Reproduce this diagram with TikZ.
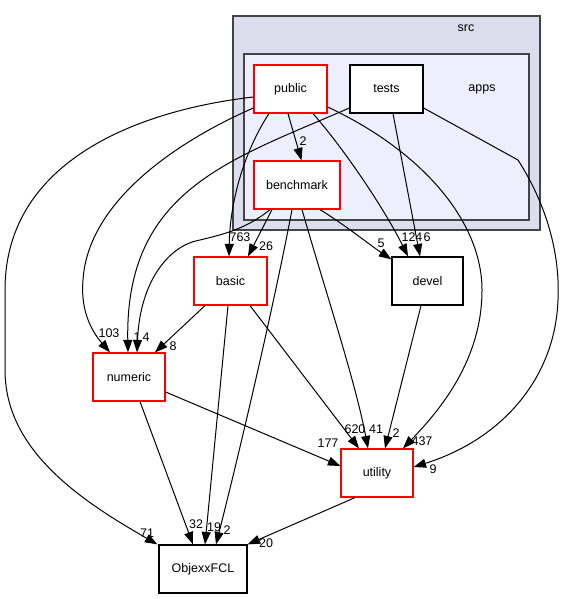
\documentclass[tikz,border=0pt]{standalone}
\usepackage{fontspec}
\setmainfont{Liberation Sans}
\usetikzlibrary{arrows.meta}
\definecolor{srcfill}{HTML}{DDDDEE}
\definecolor{appsfill}{HTML}{EEEEFF}
\definecolor{clborder}{HTML}{444444}
\tikzset{
  dirbox/.style={draw=black, fill=white, line width=1.2pt, minimum height=48pt, inner sep=0pt, font=\fontsize{12.5}{14}\selectfont},
  reddir/.style={dirbox, draw=red},
  cluster/.style={draw=clborder, line width=1.4pt},
  dep/.style={line width=1pt, -{Triangle[length=12.5pt,width=9pt]}},
  num/.style={inner sep=0pt, font=\fontsize{12.5}{13}\selectfont},
  ctitle/.style={inner sep=0pt, font=\fontsize{12.5}{14}\selectfont}
}
\begin{document}
\begin{tikzpicture}[x=1pt,y=-1pt]
\useasboundingbox (0,0) rectangle (567,599);
\fill[white] (0,0) rectangle (567,599);
% clusters
\draw[cluster, fill=srcfill] (233,16) rectangle (540,230);
\node[ctitle] (srclbl) at (466,28) {src};
\draw[cluster, fill=appsfill] (244,54) rectangle (529,220);
\node[ctitle] (appslbl) at (482,89) {apps};
% nodes
\node[reddir, minimum width=73pt] (public) at (290.5,89) {public};
\node[dirbox, minimum width=73pt] (tests) at (386.5,89) {tests};
\node[reddir, minimum width=86pt] (benchmark) at (297,185) {benchmark};
\node[reddir, minimum width=73pt] (basic) at (230.5,281) {basic};
\node[dirbox, minimum width=71pt] (devel) at (427.5,281) {devel};
\node[reddir, minimum width=72pt] (numeric) at (129,377) {numeric};
\node[reddir, minimum width=72pt] (utility) at (377,473) {utility};
\node[dirbox, minimum width=88pt] (objexx) at (203,569) {ObjexxFCL};
% edges from public
\draw[dep] ([xshift=-2.5pt]public.south) -- ([xshift=4.5pt]benchmark.north);
\draw[dep] ([xshift=-21.5pt]public.south) .. controls (245,150) and (230,200) .. ([xshift=-1.5pt]basic.north);
\draw[dep] ([yshift=-19pt]public.west) .. controls (180,140) and (88,200) .. (83,280) .. controls (80,315) and (95,335) .. ([xshift=-19pt]numeric.north);
\draw[dep] ([yshift=-8pt]public.west) .. controls (140,110) and (5,160) .. (5,290) -- (5,370) .. controls (5,450) and (80,500) .. ([xshift=-1pt]objexx.north west);
\draw[dep] ([xshift=22.5pt]public.south) .. controls (345,150) and (385,210) .. ([xshift=-19.5pt]devel.north);
\draw[dep] ([yshift=-18pt]public.east) .. controls (420,150) and (482,220) .. (482,290) .. controls (482,360) and (440,410) .. ([xshift=26pt]utility.north);
% edges from tests
\draw[dep] ([yshift=-19pt]tests.east) -- (518,160) .. controls (550,210) and (560,260) .. (558,300) .. controls (555,380) and (500,440) .. ([yshift=6pt]utility.east);
\draw[dep] ([xshift=6.5pt]tests.south) -- ([xshift=-7.5pt]devel.north);
\draw[dep] ([yshift=-19pt]tests.west) .. controls (230,160) and (125,190) .. ([xshift=-1pt]numeric.north);
% edges from benchmark
\draw[dep] ([xshift=-25pt]benchmark.south) -- ([xshift=17.5pt]basic.north);
\draw[dep] ([xshift=-27pt]benchmark.south) .. controls (245,230) and (220,235) .. (200,240) .. controls (170,245) and (140,280) .. ([xshift=8pt]numeric.north);
\draw[dep] ([xshift=-5pt]benchmark.south) .. controls (275,300) and (240,450) .. ([xshift=13pt]objexx.north);
\draw[dep] ([xshift=5pt]benchmark.south) .. controls (325,290) and (355,380) .. ([xshift=-9pt]utility.north);
\draw[dep] ([xshift=23pt]benchmark.south) .. controls (345,225) and (370,245) .. ([yshift=-3pt]devel.north west);
% edges from basic
\draw[dep] ([xshift=-25.5pt]basic.south) -- ([xshift=26pt]numeric.north);
\draw[dep] ([xshift=19.5pt]basic.south) -- ([xshift=-18pt]utility.north);
\draw[dep] ([xshift=-2.5pt]basic.south) -- ([xshift=2pt]objexx.north);
% others
\draw[dep] ([xshift=-6.5pt]devel.south) -- ([xshift=8pt]utility.north);
\draw[dep] ([yshift=-15pt]numeric.east) -- ([yshift=7pt]utility.west);
\draw[dep] ([xshift=11pt]numeric.south) -- ([xshift=-10pt]objexx.north);
\draw[dep] ([xshift=-22pt]utility.south) -- (objexx.north east);
% labels
\node[num] (l1) at (303,141) {2};
\node[num] (l2) at (240,237) {763};
\node[num] (l3) at (266,246) {26};
\node[num] (l4) at (381,243) {5};
\node[num] (l5) at (412,237) {124};
\node[num] (l6) at (427,237) {6};
\node[num] (l7) at (109,333) {103};
\node[num] (l8) at (137,337) {1};
\node[num] (l9) at (146,337) {4};
\node[num] (l10) at (173,346) {8};
\node[num] (l11) at (328,443) {177};
\node[num] (l12) at (355,429) {620};
\node[num] (l13) at (376,429) {41};
\node[num] (l14) at (396,433) {2};
\node[num] (l15) at (422,441) {437};
\node[num] (l16) at (433,469) {9};
\node[num] (l17) at (147,533) {71};
\node[num] (l18) at (196,524) {32};
\node[num] (l19) at (214,527) {19};
\node[num] (l20) at (227,530) {2};
\node[num] (l21) at (266,543) {20};
\end{tikzpicture}
\end{document}
